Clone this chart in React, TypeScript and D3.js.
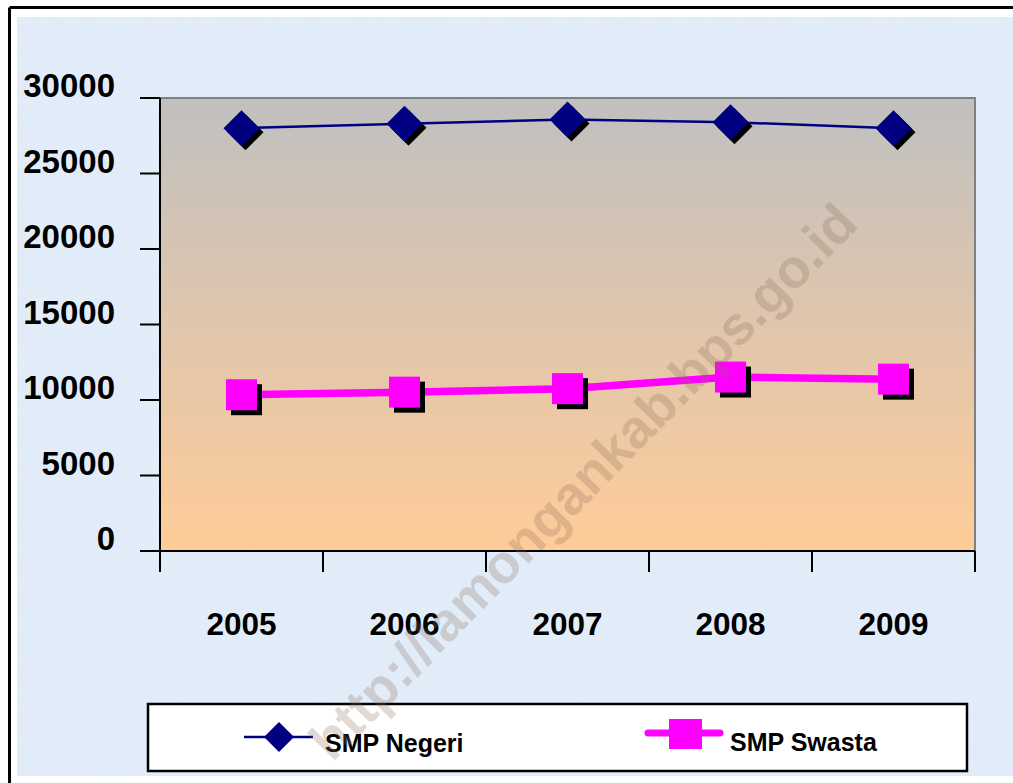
import React from "react";
import * as d3 from "d3";

const years = ["2005", "2006", "2007", "2008", "2009"];
const smpNegeri = [28000, 28300, 28580, 28400, 27990];
const smpSwasta = [10350, 10520, 10750, 11520, 11380];
const yTicks = [0, 5000, 10000, 15000, 20000, 25000, 30000];
const seriesNames = ["SMP Negeri", "SMP Swasta"];
const watermark = "http://lamongankab.bps.go.id";

const W = 1013;
const H = 783;
const plot = { left: 160, right: 975, top: 98, bottom: 551 };
const FONT = "'Liberation Sans', Arial, sans-serif";

export default function App() {
  const x = d3
    .scaleBand<string>()
    .domain(years)
    .range([plot.left, plot.right])
    .paddingInner(0)
    .paddingOuter(0);
  const y = d3.scaleLinear().domain([0, 30000]).range([plot.bottom, plot.top]);
  const cx = (d: string) => (x(d) as number) + x.bandwidth() / 2;

  const line = d3
    .line<number>()
    .x((_, i) => cx(years[i]))
    .y((v) => y(v));

  const diamond = (px: number, py: number, r: number) =>
    `M${px},${py - r}L${px + r},${py}L${px},${py + r}L${px - r},${py}Z`;

  const catEdges = years.map((d) => x(d) as number).concat([plot.right]);

  return (
    <svg
      width={W}
      height={H}
      style={{ position: "absolute", left: 0, top: 0, background: "#fff" }}
      fontFamily={FONT}
    >
      <defs>
        <linearGradient id="plotGrad" x1="0" y1="0" x2="0" y2="1">
          <stop offset="0" stopColor="#c0c0c0" />
          <stop offset="1" stopColor="#ffcc99" />
        </linearGradient>
        <filter id="tex" x="0" y="0" width="100%" height="100%">
          <feTurbulence type="fractalNoise" baseFrequency="0.03" numOctaves="3" seed="3" result="n" />
          <feColorMatrix
            in="n"
            type="matrix"
            values="0 0 0 0 0.80  0 0 0 0 0.86  0 0 0 0 0.95  0 0 0 0.6 0"
          />
        </filter>
      </defs>

      {/* outer background */}
      <rect x={17} y={17} width={W - 17} height={776 - 17} fill="#e1ecf9" />
      <rect x={17} y={17} width={W - 17} height={776 - 17} filter="url(#tex)" opacity={0.5} />
      {/* outer frame */}
      <line x1={9.5} y1={7.5} x2={W} y2={7.5} stroke="#000" strokeWidth={3} />
      <line x1={9.5} y1={7.5} x2={9.5} y2={H} stroke="#000" strokeWidth={3} />

      {/* plot area */}
      <rect
        x={plot.left}
        y={plot.top}
        width={plot.right - plot.left}
        height={plot.bottom - plot.top}
        fill="url(#plotGrad)"
      />
      <path
        d={`M${plot.left},${plot.top}H${plot.right}V${plot.bottom}`}
        fill="none"
        stroke="#808080"
        strokeWidth={2}
      />

      {/* y axis */}
      <line x1={plot.left} y1={plot.top} x2={plot.left} y2={plot.bottom} stroke="#000" strokeWidth={2} />
      {yTicks.map((t) => (
        <g key={t}>
          <line x1={140} x2={plot.left} y1={y(t)} y2={y(t)} stroke="#000" strokeWidth={2} />
          <text x={115} y={y(t) - 1} textAnchor="end" fontSize={33} fontWeight="bold" fill="#000">
            {t}
          </text>
        </g>
      ))}

      {/* x axis */}
      <line x1={140} x2={plot.right} y1={plot.bottom} y2={plot.bottom} stroke="#000" strokeWidth={2} />
      {catEdges.map((e, i) => (
        <line key={i} x1={e} x2={e} y1={plot.bottom} y2={572} stroke="#000" strokeWidth={2} />
      ))}
      {years.map((d) => (
        <text key={d} x={cx(d)} y={635} textAnchor="middle" fontSize={31.5} fontWeight="bold" fill="#000">
          {d}
        </text>
      ))}

      {/* SMP Negeri */}
      <path d={line(smpNegeri) || ""} fill="none" stroke="#000080" strokeWidth={2.5} />
      {smpNegeri.map((v, i) => (
        <g key={i}>
          <path d={diamond(cx(years[i]) + 4, y(v) + 4, 18)} fill="#000" />
          <path d={diamond(cx(years[i]), y(v), 18)} fill="#000080" />
        </g>
      ))}

      {/* SMP Swasta */}
      <path d={line(smpSwasta) || ""} fill="none" stroke="#ff00ff" strokeWidth={7.5} />
      {smpSwasta.map((v, i) => (
        <g key={i}>
          <rect x={cx(years[i]) - 15.5 + 5} y={y(v) - 15.5 + 5} width={31} height={31} fill="#000" />
          <rect x={cx(years[i]) - 15.5} y={y(v) - 15.5} width={31} height={31} fill="#ff00ff" />
        </g>
      ))}

      {/* legend */}
      <rect x={148} y={704} width={819} height={67} fill="#fff" stroke="#000" strokeWidth={2.5} />
      <line x1={244} x2={313} y1={737} y2={737} stroke="#000080" strokeWidth={2.5} />
      <path d={diamond(279, 737, 15)} fill="#000080" />
      <text x={325} y={752} fontSize={25} fontWeight="bold" fill="#000">
        {seriesNames[0]}
      </text>
      <line x1={648} x2={720} y1={733} y2={733} stroke="#ff00ff" strokeWidth={7} strokeLinecap="round" />
      <rect x={669} y={719} width={33} height={30} fill="#ff00ff" />
      <text x={730} y={751} fontSize={25} fontWeight="bold" fill="#000">
        {seriesNames[1]}
      </text>

      {/* watermark, drawn on top */}
      <text
        x={860}
        y={226}
        transform="rotate(-45.5 860 226)"
        textAnchor="end"
        fontSize={54}
        fontWeight="bold"
        fill="#8c6e5a"
        fillOpacity={0.26}
      >
        {watermark}
      </text>
    </svg>
  );
}
